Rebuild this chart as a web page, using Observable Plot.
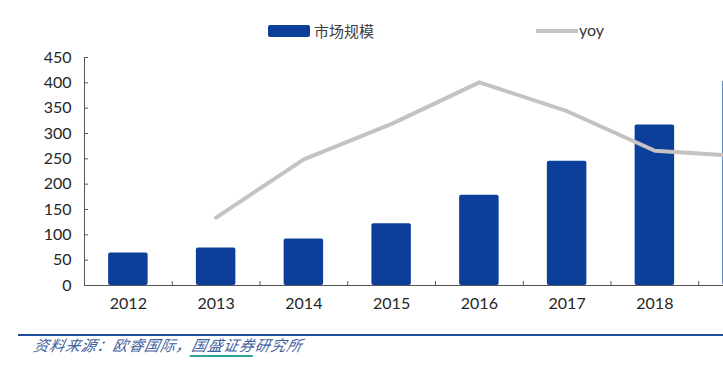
<!DOCTYPE html>
<html>
<head>
<meta charset="utf-8">
<script src="https://cdn.jsdelivr.net/npm/d3@7"></script>
<script src="https://cdn.jsdelivr.net/npm/@observablehq/plot@0.6"></script>
<style>
  html, body { margin: 0; padding: 0; background: #fff; }
  #wrap { position: relative; width: 723px; height: 367px; overflow: hidden; font-family: Lato, "Noto Sans", sans-serif; }
  #legend { position: absolute; left: 0; top: 0; width: 723px; height: 40px; }
  .sw-bar { position: absolute; left: 268px; top: 25px; width: 42px; height: 12px; background: #0b3f99; border-radius: 2px; }
  .lab1 { position: absolute; left: 314px; top: 20px; font-family: "Noto Sans CJK SC", sans-serif; font-size: 15px; color: #404040; line-height: 22px; }
  .sw-line { position: absolute; left: 536px; top: 29px; width: 42px; height: 4px; background: #c3c3c3; }
  .lab2 { position: absolute; left: 579px; top: 19px; font-family: Lato, sans-serif; font-size: 16px; color: #333; line-height: 22px; }
  #chart { position: absolute; left: 0; top: 40px; }
  #footer-line { position: absolute; left: 18px; top: 334px; width: 705px; height: 2px; background: #1f4f9c; }
  #source { position: absolute; left: 32px; top: 335px; font-family: "Noto Sans CJK SC", sans-serif; font-style: italic; font-size: 15px; color: #3f5f9f; line-height: 20px; letter-spacing: 0.8px; transform: skewX(-12deg); transform-origin: left bottom; }
  #source .u { border-bottom: 2px solid #2fa39a; }
</style>
</head>
<body>
<div id="wrap">
  <div id="legend">
    <div class="sw-bar"></div><div class="lab1">市场规模</div>
    <div class="sw-line"></div><div class="lab2">yoy</div>
  </div>
  <div id="chart"></div>
  <div id="footer-line"></div>
  <div id="source">资料来源：欧睿国际，<span class="u">国盛证券</span>研究所</div>
</div>
<script>
const years = ["2012", "2013", "2014", "2015", "2016", "2017", "2018", "2019"];
const marketSize = [64, 74, 92, 122, 178, 245, 317, 405];
const yoy = [null, 134, 249, 319, 401, 344, 266, 255];
const yTicks = [0, 50, 100, 150, 200, 250, 300, 350, 400, 450];
const xTickLabels = ["2012", "2013", "2014", "2015", "2016", "2017", "2018"];

const bars = years.map((y, i) => ({year: y, value: marketSize[i]}));
const line = years.map((y, i) => ({year: y, value: yoy[i]})).filter(d => d.value != null);

const W = 723, H = 280, mL = 84, mT = 17, mB = 35;
const step = 87.75;
const plotH = H - mT - mB;

const chart = Plot.plot({
  width: W,
  height: H,
  marginLeft: mL,
  marginRight: 0,
  marginTop: mT,
  marginBottom: mB,
  style: {fontFamily: "Lato, 'Noto Sans', sans-serif", fontSize: "16px", color: "#333", background: "#fff"},
  x: {domain: years, range: [mL, mL + step * years.length], paddingInner: 0.55, paddingOuter: 0.275, round: false, label: null},
  y: {domain: [0, 450], label: null},
  marks: [
    Plot.barY(bars, {x: "year", y: "value", fill: "#0b3f99", rx: 2}),
    Plot.line(line, {x: "year", y: "value", stroke: "#c3c3c3", strokeWidth: 4, strokeLinejoin: "round"}),
    Plot.frame({anchor: "left", stroke: "#555"}),
    Plot.frame({anchor: "bottom", stroke: "#555"}),
    Plot.tickY(yTicks, {y: d => d, stroke: "#555", insetRight: (W - mL) - 4}),
    Plot.tickX(years.slice(1), {x: d => d, dx: -step / 2, stroke: "#555", insetTop: plotH - 4}),
    Plot.axisY({ticks: yTicks, tickSize: 0, tickPadding: 13, fill: "#262626", fontSize: 16}),
    Plot.axisX({ticks: xTickLabels, tickSize: 0, tickPadding: 12, fill: "#262626", fontSize: 16})
  ]
});
document.getElementById("chart").appendChild(chart);
</script>
</body>
</html>
